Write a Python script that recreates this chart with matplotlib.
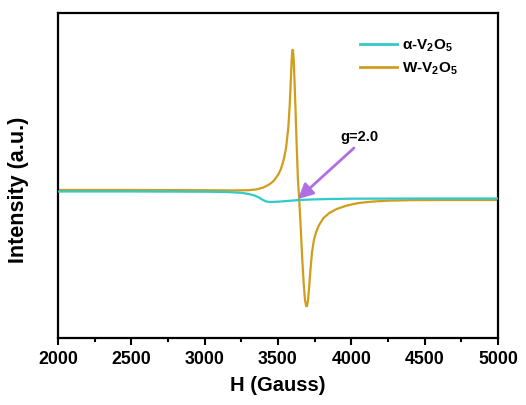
import matplotlib
matplotlib.use("Agg")
import matplotlib.pyplot as plt

plt.rcParams['font.family'] = ['Liberation Sans', 'DejaVu Sans']
plt.rcParams['font.weight'] = 'bold'
plt.rcParams['mathtext.fontset'] = 'custom'
plt.rcParams['mathtext.rm'] = 'Liberation Sans:bold'
plt.rcParams['mathtext.it'] = 'Liberation Sans:bold'
plt.rcParams['mathtext.bf'] = 'Liberation Sans:bold'

# alpha-V2O5
alpha_H = [2000, 2500, 3000, 3150, 3250, 3300, 3340, 3370, 3395, 3420, 3445, 3500, 3560, 3620, 3700, 3850, 4000, 4500, 5000]
alpha_I = [8.5, 8.5, 8.3, 8.0, 7.2, 6.0, 4.5, 2.5, 0.2, -1.5, -2.0, -1.7, -1.0, -0.3, 0.4, 1.0, 1.3, 1.5, 1.5]

# W-V2O5
w_H = [2000, 2500, 3000, 3200, 3300, 3350, 3400, 3440, 3470, 3500, 3520, 3540, 3555, 3570, 3580,
       3588, 3594, 3598, 3602, 3607, 3613, 3620, 3628, 3636, 3645, 3655, 3665, 3675, 3684,
       3692, 3698, 3704, 3712, 3720, 3732, 3745, 3760, 3780, 3810, 3850, 3900, 3970, 4050,
       4150, 4250, 4400, 4600, 5000]
w_I = [10, 10, 9.8, 9.6, 9.8, 10.5, 12.5, 15.5, 19, 25, 31, 41, 52, 72, 95,
       122, 142, 150, 150, 140, 118, 88, 52, 20, 0, -28, -58, -83, -100,
       -106, -106, -101, -88, -72, -52, -40, -32, -25, -18, -13, -9, -5.5, -3,
       -1.5, -0.7, -0.2, 0, 0]

xticks = [2000, 2500, 3000, 3500, 4000, 4500, 5000]

fig = plt.figure(figsize=(5.26, 4.05), dpi=100)
ax = fig.add_axes([58/526, 1-338/405, 440/526, 325/405])

ax.plot(alpha_H, alpha_I, color='#30CACA', lw=1.6, label=r'α-V$_2$O$_5$', zorder=3)
ax.plot(w_H, w_I, color='#D19E1C', lw=1.6, label=r'W-V$_2$O$_5$', zorder=2)

ax.set_xlim(2000, 5000)
ax.set_ylim(-138, 187)
ax.set_xticks(xticks)
ax.set_xticks([2250, 2750, 3250, 3750, 4250, 4750], minor=True)
ax.set_yticks([])
ax.tick_params(axis='x', which='major', direction='out', length=5, width=1.5, labelsize=12.8, pad=4)
ax.tick_params(axis='x', which='minor', direction='out', length=3, width=1.5)
for lab in ax.get_xticklabels():
    lab.set_fontweight('bold')
for s in ax.spines.values():
    s.set_linewidth(1.6)

ax.set_xlabel('H (Gauss)', fontsize=14.5, fontweight='bold', labelpad=6)
ax.set_ylabel('Intensity (a.u.)', fontsize=15.5, fontweight='bold')
ax.yaxis.set_label_coords(-0.066, 0.455)

ax.text(4056, 63, 'g=2.0', fontsize=10.5, fontweight='bold', ha='center', va='center')
ax.annotate('', xy=(3636, 1), xytext=(4018, 52),
            arrowprops=dict(arrowstyle='-|>,head_length=0.9,head_width=0.45', color='#B070E0', lw=2,
                            shrinkA=0, shrinkB=0))

leg = ax.legend(loc='upper left', bbox_to_anchor=(360/526, 1-37.5/405), bbox_transform=fig.transFigure,
                frameon=False, fontsize=11, handlelength=2.4, handletextpad=0.35,
                labelspacing=0.45, borderpad=0, borderaxespad=0)
for line in leg.get_lines():
    line.set_linewidth(2)

fig.savefig('out.png', dpi=100)
